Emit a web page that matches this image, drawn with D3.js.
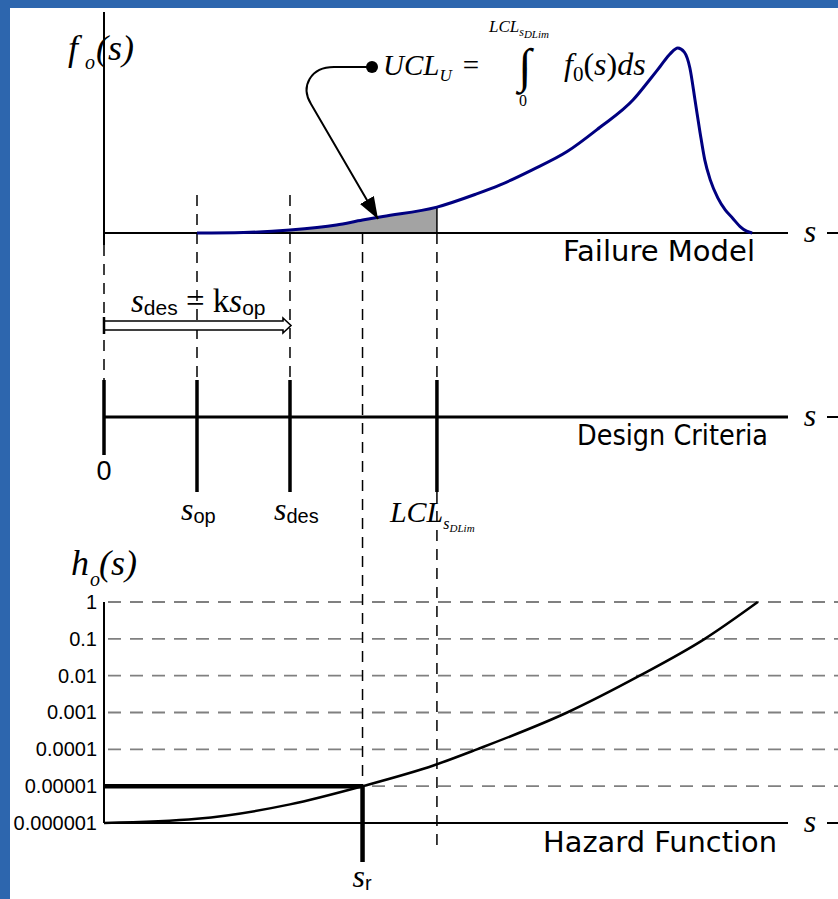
<!DOCTYPE html>
<html>
<head>
<meta charset="utf-8">
<script src="https://cdn.jsdelivr.net/npm/d3@7"></script>
<style>
  body { margin: 0; background: #fff; }
  svg { display: block; }
</style>
</head>
<body>
<div id="chart"></div>
<script>
// stress positions, in units of s_op (k = 2)
const markNames = ["0", "op", "des", "LCL"];
const markS = [0, 1, 2, 3.58];
const sR = 2.78;
const sMax = 7.355;

// failure model f_o(s), peak scaled to 1
const fS = [1, 1.5, 2, 2.5, 2.78, 3, 3.58, 4, 4.26, 4.6, 4.98, 5.33, 5.69, 5.87, 5.98, 6.09, 6.17,
            6.24, 6.3, 6.355, 6.41, 6.46, 6.52, 6.6, 6.68, 6.76, 6.84, 6.91, 6.97];
const fVal = [0, 0.003, 0.016, 0.043, 0.07, 0.089, 0.14, 0.21, 0.26, 0.34, 0.44, 0.57, 0.72, 0.83, 0.90, 0.97, 1.0,
              0.978, 0.892, 0.719, 0.541, 0.395, 0.286, 0.19, 0.125, 0.08, 0.035, 0.01, 0];

// hazard function h_o(s)
const hS = [0, 1, 2, 2.78, 3.55, 4.01, 4.98, 5.76, 6.46, 7.03];
const hVal = [1e-6, 1.3e-6, 3.2e-6, 1e-5, 3.7e-5, 1e-4, 1e-3, 1e-2, 1e-1, 1];
const hTicks = [1, 0.1, 0.01, 0.001, 0.0001, 0.00001, 0.000001];
const hTickLabels = ["1", "0.1", "0.01", "0.001", "0.0001", "0.00001", "0.000001"];
const hTarget = 0.00001;

const width = 838, height = 899;
const serif = "'Liberation Serif', 'Times New Roman', serif";
const sans = "'Liberation Sans', Arial, sans-serif";
const comic = "'Comic Sans MS', 'DejaVu Sans', sans-serif";

const svg = d3.select("#chart").append("svg")
    .attr("width", width)
    .attr("height", height);

svg.append("rect").attr("width", width).attr("height", height).attr("fill", "#fff");
// blue slide frame
svg.append("rect").attr("x", 0).attr("y", 0).attr("width", 10).attr("height", height).attr("fill", "#2d66ae");
svg.append("rect").attr("x", 0).attr("y", 0).attr("width", width).attr("height", 8).attr("fill", "#2d66ae");

const x = d3.scaleLinear().domain([0, sMax]).range([104, 788]);
const yF = d3.scaleLinear().domain([0, 1]).range([233, 48]);
const yMid = 417;
const yH = d3.scaleLog().domain([1e-6, 1]).range([823, 602]);

const defs = svg.append("defs");
defs.append("marker")
    .attr("id", "head")
    .attr("viewBox", "0 0 22 16")
    .attr("refX", 22).attr("refY", 8)
    .attr("markerWidth", 22).attr("markerHeight", 16)
    .attr("markerUnits", "userSpaceOnUse")
    .attr("orient", "auto")
    .append("path").attr("d", "M0,0 L22,8 L0,16 Z").attr("fill", "#000");

const dash = "11,8";
function vline(s, y1, y2, w, dashed) {
    svg.append("line")
        .attr("x1", x(s)).attr("x2", x(s))
        .attr("y1", y1).attr("y2", y2)
        .attr("stroke", "#000")
        .attr("stroke-width", w)
        .attr("stroke-dasharray", dashed ? dash : null);
}

// ---- hazard gridlines
svg.append("g").selectAll("line")
    .data(hTicks.slice(0, -1))
    .join("line")
    .attr("x1", x(0) + 4).attr("x2", width)
    .attr("y1", d => yH(d)).attr("y2", d => yH(d))
    .attr("stroke", "#808080")
    .attr("stroke-width", 1.8)
    .attr("stroke-dasharray", "13,9");

// ---- dashed guide lines
vline(0, 245, 380, 1.5, true);
vline(markS[1], 195, 380, 1.5, true);
vline(markS[2], 195, 380, 1.5, true);
vline(sR, yF(0), yH(hTarget), 1.5, true);
vline(markS[3], yF(0), 380, 1.5, true);
vline(markS[3], 492, 852, 1.5, true);

// ---- failure model
const fData = fS.map((s, i) => ({ s, v: fVal[i] }));
svg.append("path")
    .datum(fData.filter(d => d.s <= markS[3]))
    .attr("d", d3.area().x(d => x(d.s)).y0(yF(0)).y1(d => yF(d.v)).curve(d3.curveMonotoneX))
    .attr("fill", "#a3a3a3");
vline(markS[3], yF(0), yF(fVal[fS.indexOf(markS[3])]), 1.5, false);

svg.append("line").attr("x1", x(0)).attr("x2", x(0)).attr("y1", 12).attr("y2", 245)
    .attr("stroke", "#000").attr("stroke-width", 2);
svg.append("line").attr("x1", x(0)).attr("x2", x(sMax)).attr("y1", yF(0)).attr("y2", yF(0))
    .attr("stroke", "#000").attr("stroke-width", 2);

svg.append("path")
    .datum(fData)
    .attr("d", d3.line().x(d => x(d.s)).y(d => yF(d.v)).curve(d3.curveMonotoneX))
    .attr("fill", "none")
    .attr("stroke", "#000080")
    .attr("stroke-width", 3);

// callout arrow
svg.append("path")
    .attr("d", "M372,67 H334 C311,67 300,86 311,104 L378,219")
    .attr("fill", "none").attr("stroke", "#000").attr("stroke-width", 2)
    .attr("marker-end", "url(#head)");
svg.append("circle").attr("cx", 372).attr("cy", 67).attr("r", 6).attr("fill", "#000");

// formula
const ucl = svg.append("text").attr("x", 383).attr("y", 75)
    .attr("font-family", serif).attr("font-style", "italic").attr("font-size", 29);
ucl.append("tspan").text("UCL");
ucl.append("tspan").attr("font-size", 17).attr("dy", 6).text("U");
svg.append("text").attr("x", 471).attr("y", 75).attr("text-anchor", "middle")
    .attr("font-family", serif).attr("font-size", 29).text("=");
svg.append("text").attr("x", 525).attr("y", 82).attr("text-anchor", "middle")
    .attr("font-family", serif).attr("font-size", 48).text("∫");
const up = svg.append("text").attr("x", 489).attr("y", 32)
    .attr("font-family", serif).attr("font-style", "italic").attr("font-size", 17);
up.append("tspan").text("LCL");
up.append("tspan").attr("font-size", 12).attr("dy", 4).text("s");
up.append("tspan").attr("font-size", 11).attr("dy", 2).text("DLim");
svg.append("text").attr("x", 523).attr("y", 106).attr("text-anchor", "middle")
    .attr("font-family", serif).attr("font-size", 16).text("0");
const fo = svg.append("text").attr("x", 564).attr("y", 75)
    .attr("font-family", serif).attr("font-size", 32);
fo.append("tspan").attr("font-style", "italic").text("f");
fo.append("tspan").attr("font-size", 21).attr("dy", 6).text("0");
fo.append("tspan").attr("dy", -6).text("(");
fo.append("tspan").attr("font-style", "italic").text("s");
fo.append("tspan").text(")");
fo.append("tspan").attr("font-style", "italic").text("ds");

// axis title f_o(s)
const ft = svg.append("g").attr("font-family", serif).attr("font-style", "italic");
ft.append("text").attr("x", 68).attr("y", 60).attr("font-size", 36).text("f");
ft.append("text").attr("x", 85).attr("y", 69).attr("font-size", 20).text("o");
ft.append("text").attr("x", 96).attr("y", 60).attr("font-size", 36).text("(s)");

// ---- design criteria
svg.append("line").attr("x1", x(0)).attr("x2", x(sMax)).attr("y1", yMid).attr("y2", yMid)
    .attr("stroke", "#000").attr("stroke-width", 3);
svg.append("g").selectAll("line")
    .data(markS)
    .join("line")
    .attr("x1", d => x(d)).attr("x2", d => x(d))
    .attr("y1", 380).attr("y2", d => d === 0 ? 455 : 492)
    .attr("stroke", "#000").attr("stroke-width", 3.5);

svg.append("text").attr("x", x(0)).attr("y", 480).attr("text-anchor", "middle")
    .attr("font-family", sans).attr("font-size", 27).text(markNames[0]);
[1, 2].forEach(i => {
    const t = svg.append("text").attr("x", x(markS[i]) - 16).attr("y", 520);
    t.append("tspan").attr("font-family", serif).attr("font-style", "italic").attr("font-size", 32).text("s");
    t.append("tspan").attr("font-family", sans).attr("font-size", 20).attr("dy", 3).text(markNames[i]);
});
const lcl = svg.append("text").attr("x", x(markS[3]) - 47).attr("y", 522)
    .attr("font-family", serif).attr("font-style", "italic").attr("font-size", 30);
lcl.append("tspan").text("LCL");
lcl.append("tspan").attr("font-size", 16).attr("dy", 7).text("s");
lcl.append("tspan").attr("font-size", 11).attr("dy", 3).text("DLim");

// s_des = k s_op arrow
const ax0 = x(0), ax1 = x(markS[2]);
svg.append("path")
    .attr("d", `M${ax0},321 H${ax1 - 7} V318 L${ax1 + 1},325.5 L${ax1 - 7},333 V330 H${ax0} Z`)
    .attr("fill", "#fff").attr("stroke", "#000").attr("stroke-width", 1.6);
vline(0, 317, 334, 2.5, false);
const eq = svg.append("text").attr("x", 131).attr("y", 312).attr("font-size", 33).attr("font-family", serif);
eq.append("tspan").attr("font-style", "italic").text("s");
eq.append("tspan").attr("font-family", sans).attr("font-size", 21).attr("dy", 3).text("des");
eq.append("tspan").attr("dy", -3).text(" = k");
eq.append("tspan").attr("font-style", "italic").text("s");
eq.append("tspan").attr("font-family", sans).attr("font-size", 21).attr("dy", 3).text("op");

// ---- hazard function
svg.append("line").attr("x1", x(0)).attr("x2", x(0)).attr("y1", yH(1)).attr("y2", yH(1e-6))
    .attr("stroke", "#000").attr("stroke-width", 2);
svg.append("line").attr("x1", x(0)).attr("x2", x(sMax)).attr("y1", yH(1e-6)).attr("y2", yH(1e-6))
    .attr("stroke", "#000").attr("stroke-width", 2);

const yAxis = svg.append("g")
    .attr("transform", `translate(${x(0)},0)`)
    .call(d3.axisLeft(yH).tickValues(hTicks).tickFormat((d, i) => hTickLabels[i]).tickSize(0).tickPadding(7));
yAxis.select(".domain").remove();
yAxis.selectAll("text").attr("font-family", sans).attr("font-size", 20).attr("fill", "#000");

const hData = hS.map((s, i) => ({ s, v: hVal[i] }));
svg.append("path")
    .datum(hData)
    .attr("d", d3.line().x(d => x(d.s)).y(d => yH(d.v)).curve(d3.curveMonotoneX))
    .attr("fill", "none")
    .attr("stroke", "#000")
    .attr("stroke-width", 2.5);

// target hazard and s_r
svg.append("line").attr("x1", x(0)).attr("x2", x(sR)).attr("y1", yH(hTarget)).attr("y2", yH(hTarget))
    .attr("stroke", "#000").attr("stroke-width", 4.5);
vline(sR, yH(hTarget), yH(1e-6) + 39, 4.5, false);
const sr = svg.append("text").attr("x", x(sR) - 10).attr("y", 887);
sr.append("tspan").attr("font-family", serif).attr("font-style", "italic").attr("font-size", 32).text("s");
sr.append("tspan").attr("font-family", sans).attr("font-size", 20).attr("dy", 3).text("r");

const ht = svg.append("g").attr("font-family", serif).attr("font-style", "italic");
ht.append("text").attr("x", 71).attr("y", 575).attr("font-size", 36).text("h");
ht.append("text").attr("x", 90).attr("y", 586).attr("font-size", 20).text("o");
ht.append("text").attr("x", 99).attr("y", 575).attr("font-size", 36).text("(s)");

// ---- s axis ends and panel captions
[yF(0), yMid, yH(1e-6)].forEach(yy => {
    svg.append("text").attr("x", 810).attr("y", yy + 9).attr("text-anchor", "middle")
        .attr("font-family", serif).attr("font-style", "italic").attr("font-size", 32).text("s");
    svg.append("line").attr("x1", 827).attr("x2", width).attr("y1", yy).attr("y2", yy)
        .attr("stroke", "#000").attr("stroke-width", 2);
});

const captions = [
    { text: "Failure Model", x: 755, y: 261, w: 192 },
    { text: "Design Criteria", x: 768, y: 445, w: 191 },
    { text: "Hazard Function", x: 777, y: 852, w: 234 }
];
svg.append("g").selectAll("text")
    .data(captions)
    .join("text")
    .attr("x", d => d.x - d.w).attr("y", d => d.y)
    .attr("textLength", d => d.w)
    .attr("lengthAdjust", "spacingAndGlyphs")
    .attr("font-family", comic).attr("font-size", 28)
    .text(d => d.text);
</script>
</body>
</html>
